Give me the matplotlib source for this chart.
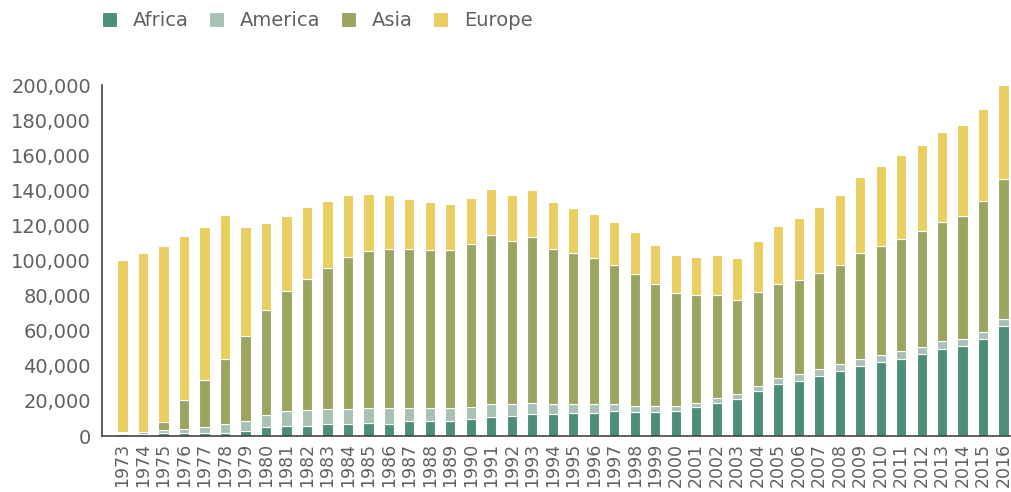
import numpy as np
import matplotlib.pyplot as plt
from matplotlib.ticker import FuncFormatter

years = list(range(1973, 2017))

africa = [1200, 200, 1500, 1500, 1500, 2000, 3000, 5000, 5700, 5700,
          6600, 6600, 7200, 7000, 8400, 8400, 8400, 9500, 10600, 11600,
          12500, 12500, 13300, 13300, 14400, 13900, 13900, 14100, 16700, 18800,
          21100, 25500, 29500, 31400, 34000, 36900, 39700, 42000, 43900, 46700,
          49600, 51500, 55300, 62500]
america = [400, 1200, 1900, 2500, 3500, 5000, 5500, 7000, 8700, 9100,
           8800, 8800, 9000, 9200, 7400, 7400, 7400, 7200, 7500, 6600,
           6100, 5700, 4800, 4800, 3700, 3200, 3200, 3100, 2300, 3100,
           3000, 3200, 3800, 4100, 4200, 4000, 4000, 4000, 4500, 4200,
           4700, 4000, 4200, 4000]
asia = [800, 800, 4400, 16500, 27000, 37000, 48500, 59800, 68200, 74700,
        80400, 86400, 89100, 90600, 91000, 90400, 90000, 92600, 96700, 92800,
        94600, 88600, 86400, 83200, 79200, 75100, 69700, 64100, 61400, 58300,
        53600, 53600, 53300, 53200, 54900, 56400, 60400, 62300, 63700, 65800,
        67500, 69700, 74400, 79800]
europe = [97900, 101900, 100700, 93500, 87300, 82000, 62000, 49800, 43000, 41000,
          38300, 35600, 32500, 30600, 28500, 27000, 26400, 26600, 26000, 26400,
          27000, 26800, 25500, 25200, 24900, 24100, 22300, 21900, 21800, 23000,
          23800, 28900, 33300, 35800, 37400, 40100, 43700, 45600, 47900, 49200,
          51500, 51900, 52500, 53700]

names = ['Africa', 'America', 'Asia', 'Europe']
colors = ['#4e8e78', '#a8c2b2', '#9da45f', '#e8cf60']

fig = plt.figure(figsize=(10.12, 4.92), dpi=100)
ax = fig.add_axes([0.1008, 0.1138, 0.899, 0.7134])

x = np.arange(len(years))
bottom = np.zeros(len(years))
for vals, name, c in zip([africa, america, asia, europe], names, colors):
    ax.bar(x, vals, 0.5, bottom=bottom, color=c, edgecolor='white',
           linewidth=0.8, label=name, clip_on=False)
    bottom += np.array(vals)

ax.set_xlim(-1, 43.4)
ax.set_ylim(0, 200000)
ax.set_yticks(range(0, 200001, 20000))
ax.yaxis.set_major_formatter(FuncFormatter(lambda v, p: f'{int(v):,}'))
ax.set_xticks(x)
ax.set_xticklabels([str(y) for y in years], rotation=90)

for s in ['top', 'right']:
    ax.spines[s].set_visible(False)
for s in ['left', 'bottom']:
    ax.spines[s].set_color('#444444')
    ax.spines[s].set_linewidth(1.2)
ax.tick_params(axis='y', length=0, pad=8, labelsize=14, labelcolor='#606060')
ax.tick_params(axis='x', length=0, pad=5, labelsize=12.5, labelcolor='#606060')

fig.legend(loc='upper left', bbox_to_anchor=(0.1008, 0.977), ncol=4, frameon=False,
           fontsize=14, handlelength=0.77, handleheight=0.77, handletextpad=0.82,
           columnspacing=1.05, borderpad=0, borderaxespad=0, labelcolor='#606060')

fig.savefig('out.png', dpi=100)
